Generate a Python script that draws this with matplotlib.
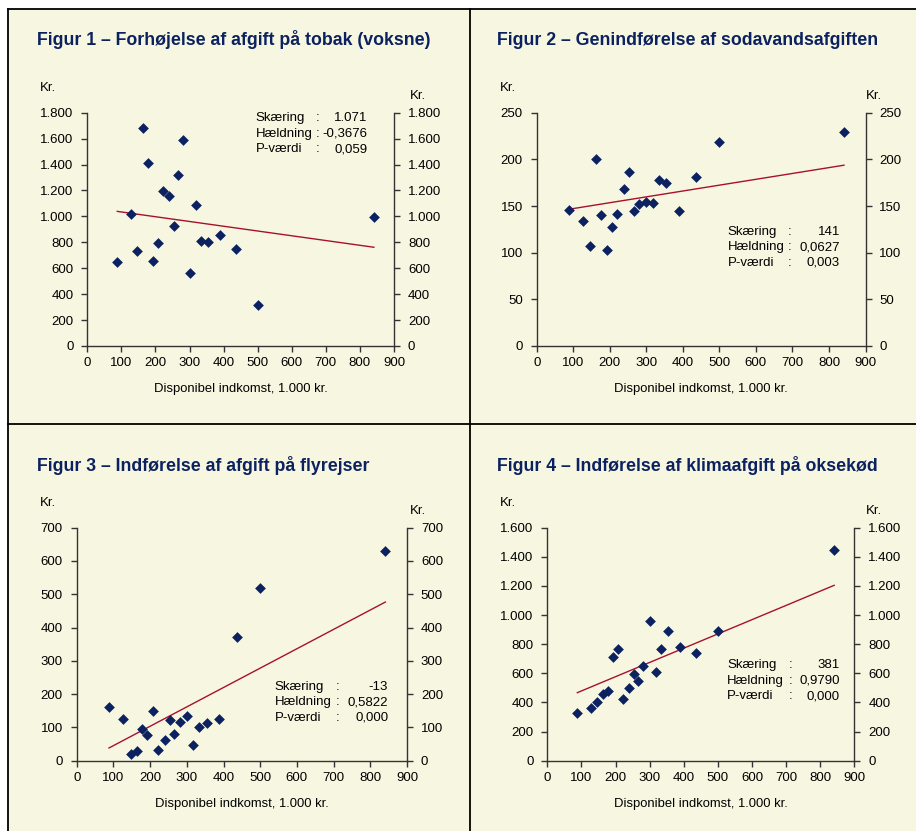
import matplotlib.pyplot as plt
import numpy as np
from matplotlib.patches import Rectangle
from matplotlib.lines import Line2D
from matplotlib.ticker import FuncFormatter

plt.rcParams['font.family'] = ['Liberation Sans', 'DejaVu Sans']

# disponibel indkomst (1.000 kr.) per gruppe
income = [88, 127, 147, 163, 177, 192, 207, 221, 240, 253, 266, 281, 300, 318, 334, 354, 389, 437, 500, 841]

tobak = [648, 1018, 736, 1685, 1409, 656, 797, 1193, 1155, 928, 1322, 1592, 563, 1088, 810, 800, 856, 748, 314, 998]
sodavand = [146, 134, 107, 200, 140, 103, 127, 141, 168, 186, 145, 152, 154, 153, 178, 175, 145, 181, 219, 229]
flyrejser = [160, 126, 20, 29, 95, 78, 150, 33, 63, 123, 80, 116, 135, 46, 101, 114, 124, 373, 519, 629]
oksekoed = [329, 361, 400, 460, 478, 712, 766, 426, 501, 593, 549, 650, 959, 611, 766, 890, 778, 737, 888, 1444]

titles = ["Figur 1 \u2013 Forh\u00f8jelse af afgift p\u00e5 tobak (voksne)",
          "Figur 2 \u2013 Genindf\u00f8relse af sodavandsafgiften",
          "Figur 3 \u2013 Indf\u00f8relse af afgift p\u00e5 flyrejser",
          "Figur 4 \u2013 Indf\u00f8relse af klimaafgift p\u00e5 oksek\u00f8d"]
intercepts = [1071, 141, -13, 381]
slopes = [-0.3676, 0.0627, 0.5822, 0.9790]
intercept_txt = ["1.071", "141", "-13", "381"]
slope_txt = ["-0,3676", "0,0627", "0,5822", "0,9790"]
pval_txt = ["0,059", "0,003", "0,000", "0,000"]
ymax = [1800, 250, 700, 1600]
ystep = [200, 50, 100, 200]

W, H = 916, 831
bg = '#f7f7e1'
navy = '#0b2160'
dark_red = '#a8102e'

fig = plt.figure(figsize=(W / 100, H / 100), dpi=100)
fig.patch.set_facecolor('white')
fig.patches.append(Rectangle((8 / W, 0), 1, 1 - 9 / H, transform=fig.transFigure,
                             facecolor=bg, edgecolor='none', zorder=-10))

# frame lines
def fline(x0, y0, x1, y1):
    fig.lines.append(Line2D([x0 / W, x1 / W], [1 - y0 / H, 1 - y1 / H],
                            transform=fig.transFigure, color='black', lw=1.3))

fline(8, 9, W, 9)
fline(8, 9, 8, H)
fline(470, 9, 470, H)
fline(8, 424, W, 424)

# axes boxes in pixels: left, right, top, bottom
boxes = [(87.3, 394, 112.7, 346), (536.7, 865.5, 112.7, 346),
         (76.7, 407, 527.7, 760.7), (547.3, 854.3, 527.7, 760.7)]
# annotation positions (axes fraction): label x, colon x, value x, first row y
ann_pos = [(0.549, 0.751, 0.913, 0.976), (0.581, 0.770, 0.922, 0.490),
           (0.600, 0.790, 0.943, 0.318), (0.586, 0.791, 0.953, 0.409)]
title_pos = [(37, 45), (497, 45), (37, 471), (497, 471)]
kr_left = [(40, 88), (500, 88), (40, 503), (500, 503)]
kr_right = [(410, 96), (866, 96), (410, 511), (866, 511)]

series = [tobak, sodavand, flyrejser, oksekoed]
fmt = FuncFormatter(lambda v, p: f"{int(v):,}".replace(",", "."))

for i in range(4):
    l, r, t, b = boxes[i]
    ax = fig.add_axes([l / W, 1 - b / H, (r - l) / W, (b - t) / H])
    ax.set_facecolor('none')
    ax.scatter(income, series[i], marker='D', s=30, color=navy, zorder=3, linewidths=0)
    xl = np.array([min(income), max(income)])
    ax.plot(xl, intercepts[i] + slopes[i] * xl, color=dark_red, lw=1.0, zorder=2)

    ax.set_xlim(0, 900)
    ax.set_ylim(0, ymax[i])
    ax.set_xticks(range(0, 901, 100))
    ax.set_yticks(range(0, ymax[i] + 1, ystep[i]))
    ax.yaxis.set_major_formatter(fmt)
    ax.tick_params(direction='out', length=4, width=1, colors='#333333',
                   labelcolor='black', labelsize=9.5, pad=4,
                   right=True, labelright=True)
    ax.tick_params(axis='y', pad=6)
    for s in ['left', 'right', 'bottom']:
        ax.spines[s].set_color('#333333')
        ax.spines[s].set_linewidth(1)
    ax.spines['top'].set_visible(False)
    ax.set_xlabel("Disponibel indkomst, 1.000 kr.", fontsize=9.4, labelpad=10)

    lx, cx, vx, y0 = ann_pos[i]
    rows = [("Sk\u00e6ring", intercept_txt[i]), ("H\u00e6ldning", slope_txt[i]),
            ("P-v\u00e6rdi", pval_txt[i])]
    for j, (lab, val) in enumerate(rows):
        yy = y0 - j * 0.0665
        ax.text(lx, yy, lab, transform=ax.transAxes, fontsize=9.5, va='center', ha='left')
        ax.text(cx, yy, ":", transform=ax.transAxes, fontsize=9.5, va='center', ha='center')
        ax.text(vx, yy, val, transform=ax.transAxes, fontsize=9.5, va='center', ha='right')

    fig.text(title_pos[i][0] / W, 1 - title_pos[i][1] / H, titles[i], fontsize=12.8,
             fontweight='bold', color=navy, ha='left', va='baseline')
    fig.text(kr_left[i][0] / W, 1 - kr_left[i][1] / H, "Kr.", fontsize=9.5, ha='left', va='center')
    fig.text(kr_right[i][0] / W, 1 - kr_right[i][1] / H, "Kr.", fontsize=9.5, ha='left', va='center')

fig.savefig("out.png", dpi=100)
